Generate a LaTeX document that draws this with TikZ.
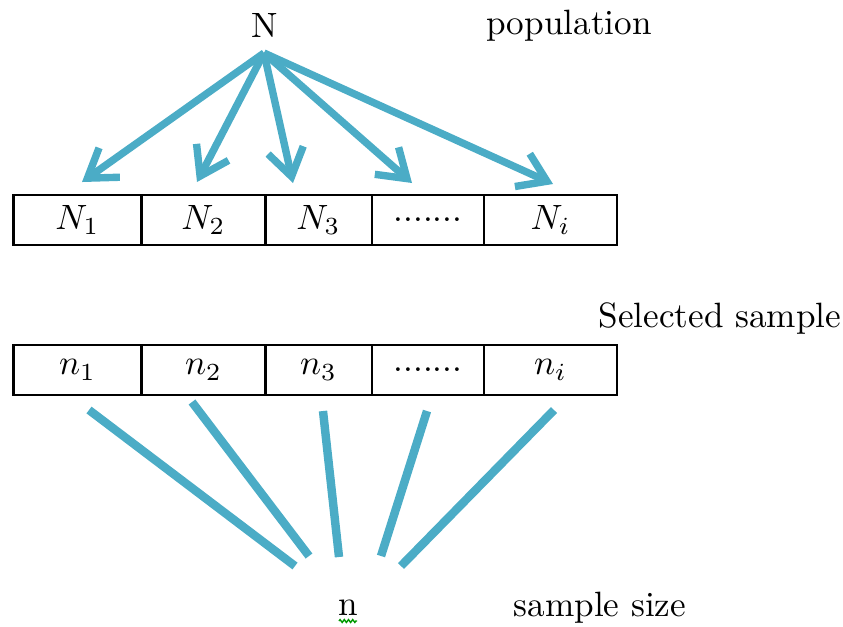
\documentclass[tikz,border=0pt]{standalone}
\usetikzlibrary{arrows.meta, decorations.pathmorphing}
\definecolor{linkblue}{RGB}{75,172,198}
\newcommand{\celldots}{.......}

\begin{document}
\begin{tikzpicture}[x=0.01cm, y=-0.01cm,
    >={Straight Barb[length=2.7mm, width=3.6mm]},
    cell/.style={draw, line width=0.7pt, minimum height=0.5cm, inner sep=0pt, outer sep=0pt},
    link/.style={linkblue, line width=2.1pt},
    tag/.style={inner sep=0pt}]
    \useasboundingbox (0,0) rectangle (843,626);

    % Labels
    \node[tag] (pop) at (265,25) {N};
    \node[tag] (poplab) at (569,26) {population};
    \node[tag] (sellab) at (720,318) {Selected sample};
    \node[tag] (size) at (348,608) {n};
    \node[tag] (sizelab) at (600,608) {sample size};
    \draw[green!60!black, line width=0.4pt, decorate, decoration={zigzag, amplitude=0.4pt, segment length=1.2pt}]
        (339,621) -- (357,621);

    % Strata and selected sample
    \foreach \i/\xc/\w/\top/\bot in {1/77.5/128/$N_1$/$n_1$, 2/203.5/124/$N_2$/$n_2$,
        3/318.5/107/$N_3$/$n_3$, 4/428/112/\celldots/\celldots, 5/550.5/133/$N_i$/$n_i$}{
        \node[cell, minimum width=\w*0.01cm] (N\i) at (\xc,220) {\top};
        \node[cell, minimum width=\w*0.01cm] (n\i) at (\xc,370) {\bot};
    }

    % Arrows from the population
    \coordinate (apex) at (264,53);
    \foreach \i/\x/\y in {1/82/182, 2/197/182, 3/293/183, 4/412/183, 5/553/184}{
        \coordinate (tip\i) at (\x,\y);
        \draw[link, ->] (apex) -- (tip\i);
    }

    % Lines to the sample size
    \foreach \i/\xa/\ya/\xb/\yb in {1/89/410/295/566, 2/192/402/309/556, 3/323/411/339/557,
        4/427/411/381/556, 5/554/410/401/566}{
        \coordinate (from\i) at (\xa,\ya);
        \coordinate (to\i) at (\xb,\yb);
        \draw[link, line width=2.4pt] (from\i) -- (to\i);
    }
\end{tikzpicture}
\end{document}
